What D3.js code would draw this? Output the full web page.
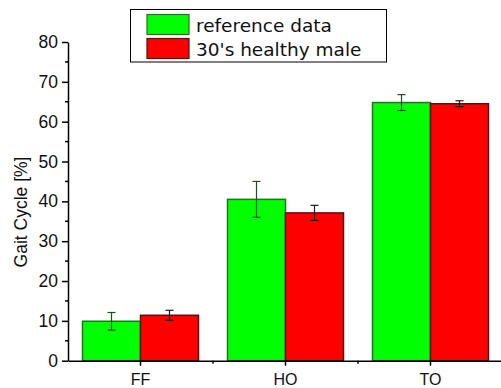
<!DOCTYPE html>
<html>
<head>
<meta charset="utf-8">
<script src="https://cdn.jsdelivr.net/npm/d3@7"></script>
<style>
  body { margin: 0; background: #fff; }
  svg { display: block; }
</style>
</head>
<body>
<figure id="chart" style="margin:0"></figure>
<script>
// data
const categories = ["FF", "HO", "TO"];
const seriesNames = ["reference data", "30's healthy male"];
const refMean = [9.9, 40.5, 64.8];
const refErr = [2.2, 4.5, 2.0];
const maleMean = [11.4, 37.1, 64.5];
const maleErr = [1.25, 1.9, 0.75];
const yTicks = [0, 10, 20, 30, 40, 50, 60, 70, 80];

const width = 501, height = 388;
const margin = { top: 42, right: -2, bottom: 27, left: 68 };
const font = "'Liberation Sans', Arial, sans-serif";

const svg = d3.select("figure#chart")
  .append("svg")
  .attr("width", width)
  .attr("height", height);

const x = d3.scaleBand()
  .domain(categories)
  .range([margin.left, width - margin.right])
  .paddingInner(0.2)
  .paddingOuter(0.1);

const xSub = d3.scaleBand()
  .domain(seriesNames)
  .range([0, x.bandwidth()]);

const y = d3.scaleLinear()
  .domain([0, 80])
  .range([height - margin.bottom - 0.3, margin.top]);

const fills = ["#00ff00", "#ff0000"];
const strokes = ["#2e6b2e", "#5a1010"];
const errColors = ["#1e4d1e", "#1a1a1a"];

const rows = categories.map((c, i) => [
  { cat: c, s: 0, v: refMean[i], e: refErr[i] },
  { cat: c, s: 1, v: maleMean[i], e: maleErr[i] }
]).flat();

// bars
svg.append("g")
  .selectAll("rect")
  .data(rows)
  .enter()
  .append("rect")
  .attr("x", d => x(d.cat) + xSub(seriesNames[d.s]))
  .attr("y", d => y(d.v))
  .attr("width", xSub.bandwidth())
  .attr("height", d => y(0) - y(d.v))
  .attr("fill", d => fills[d.s])
  .attr("stroke", d => strokes[d.s])
  .attr("stroke-width", 1.5);

// error bars
const eb = svg.append("g")
  .selectAll("g")
  .data(rows)
  .enter()
  .append("g")
  .attr("stroke", d => errColors[d.s])
  .attr("stroke-width", 1.2);
const cx = d => x(d.cat) + xSub(seriesNames[d.s]) + xSub.bandwidth() / 2;
eb.append("line")
  .attr("x1", cx).attr("x2", cx)
  .attr("y1", d => y(d.v + d.e)).attr("y2", d => y(d.v - d.e));
eb.append("line")
  .attr("x1", d => cx(d) - 4).attr("x2", d => cx(d) + 4)
  .attr("y1", d => y(d.v + d.e)).attr("y2", d => y(d.v + d.e));
eb.append("line")
  .attr("x1", d => cx(d) - 4).attr("x2", d => cx(d) + 4)
  .attr("y1", d => y(d.v - d.e)).attr("y2", d => y(d.v - d.e));

// y axis
const yAxis = svg.append("g")
  .attr("transform", "translate(" + margin.left + ",0)")
  .call(d3.axisLeft(y).tickValues(yTicks).tickSize(6).tickPadding(4).tickSizeOuter(0));
yAxis.select(".domain").attr("stroke-width", 1.5);
yAxis.selectAll(".tick line").attr("stroke-width", 1.5);
yAxis.selectAll("text")
  .style("font-family", font)
  .style("font-size", "17.5px")
  .attr("fill", "#111");

// y minor ticks
svg.append("g")
  .selectAll("line")
  .data(yTicks.slice(0, -1).map(t => t + 5))
  .enter()
  .append("line")
  .attr("x1", margin.left - 3).attr("x2", margin.left)
  .attr("y1", d => y(d)).attr("y2", d => y(d))
  .attr("stroke", "#000").attr("stroke-width", 1.5);

// x axis
const xAxis = svg.append("g")
  .attr("transform", "translate(0," + y(0) + ")")
  .call(d3.axisBottom(x).tickSize(5).tickPadding(8).tickSizeOuter(0));
xAxis.select(".domain").attr("stroke-width", 1.5);
xAxis.selectAll(".tick line").attr("stroke-width", 1.5);
xAxis.selectAll("text")
  .style("font-family", font)
  .style("font-size", "16px")
  .attr("fill", "#111");

// x minor ticks between categories
svg.append("g")
  .selectAll("line")
  .data(categories.slice(1))
  .enter()
  .append("line")
  .attr("x1", d => x(d) - x.step() * x.paddingInner() / 2)
  .attr("x2", d => x(d) - x.step() * x.paddingInner() / 2)
  .attr("y1", y(0)).attr("y2", y(0) + 3)
  .attr("stroke", "#000").attr("stroke-width", 1.5);

// axis title
svg.append("text")
  .attr("transform", "translate(27,212) rotate(-90)")
  .attr("text-anchor", "middle")
  .style("font-family", font)
  .style("font-size", "17.5px")
  .attr("fill", "#111")
  .text("Gait Cycle [%]");

// legend
const legend = svg.append("g");
legend.append("rect")
  .attr("x", 130.5).attr("y", 9.5)
  .attr("width", 256).attr("height", 52.5)
  .attr("fill", "#fff").attr("stroke", "#000").attr("stroke-width", 1);
const li = legend.selectAll("g")
  .data(seriesNames)
  .enter()
  .append("g")
  .attr("transform", (d, i) => "translate(0," + (i * 24) + ")");
li.append("rect")
  .attr("x", 147).attr("y", 14.5)
  .attr("width", 42).attr("height", 20)
  .attr("fill", (d, i) => fills[i])
  .attr("stroke", (d, i) => strokes[i])
  .attr("stroke-width", 1.2);
li.append("text")
  .attr("x", 196)
  .attr("y", 32)
  .style("font-family", "'DejaVu Sans', sans-serif")
  .style("font-size", "18.5px")
  .attr("fill", "#111")
  .text(d => d);
</script>
</body>
</html>
